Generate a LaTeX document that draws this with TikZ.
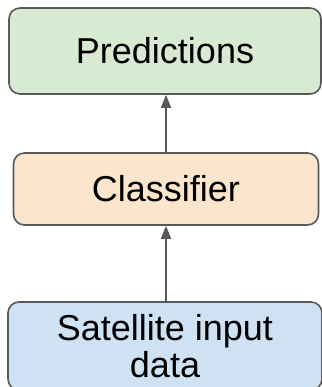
\documentclass[tikz,border=0pt]{standalone}
\usepackage{fontspec}
\setmainfont{Liberation Sans}
\usetikzlibrary{arrows.meta}
\definecolor{edgegray}{HTML}{595959}
\definecolor{greenfill}{HTML}{D9EAD3}
\definecolor{orangefill}{HTML}{FCE5CD}
\definecolor{bluefill}{HTML}{CFE2F3}
\tikzset{
  box/.style={draw=edgegray, line width=1.6pt, rounded corners=11pt, minimum width=#1, inner sep=0pt, align=center, font=\fontsize{36}{37}\selectfont},
  flow/.style={draw=edgegray, line width=1.8pt, -{Triangle[length=13pt,width=10pt]}}
}
\begin{document}
\begin{tikzpicture}[x=1pt,y=-1pt]
  \useasboundingbox (0,0) rectangle (321,387);
  % output, model and input boxes
  \node[box=312pt, fill=greenfill, minimum height=86pt] (pred) at (165,51) {Predictions};
  \node[box=305pt, fill=orangefill, minimum height=72pt] (clf) at (166,189) {Classifier};
  \node[box=314pt, fill=bluefill, minimum height=88pt] (sat) at (165,346) {Satellite input\\data};
  % vertical line along which the arrows run
  \coordinate (axis) at (166,0);
  % data flow, bottom to top
  \draw[flow] (sat.north -| axis) -- (clf.south -| axis);
  \draw[flow] (clf.north -| axis) -- (pred.south -| axis);
\end{tikzpicture}
\end{document}
